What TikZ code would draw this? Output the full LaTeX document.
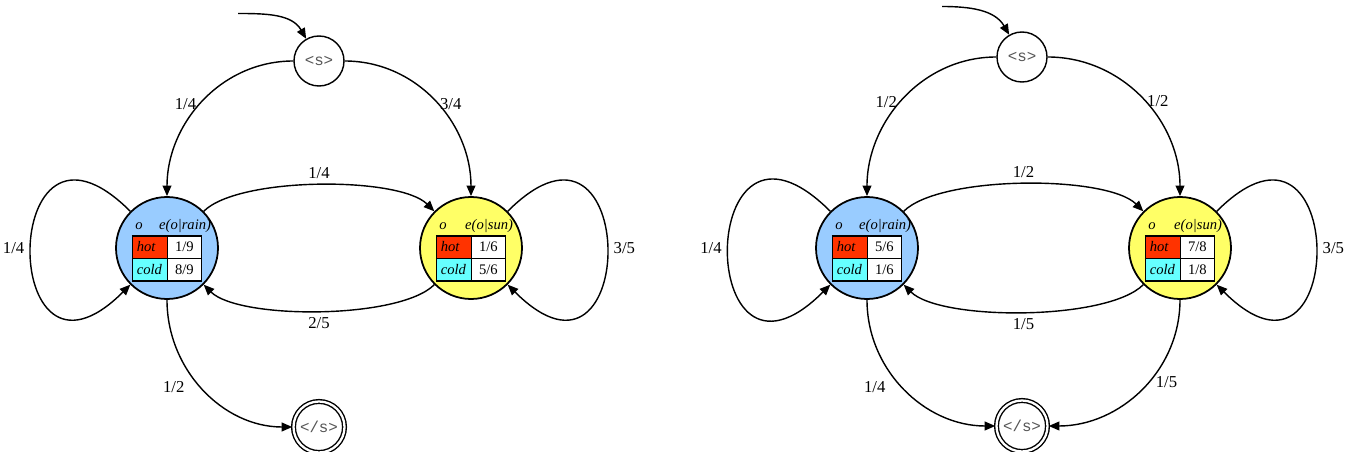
\documentclass[tikz,border=0pt]{standalone}
\usepackage{fontspec}
\setmainfont{Liberation Serif}
\setmonofont{Liberation Mono}
\usepackage{array}
\usepackage{colortbl}
\usetikzlibrary{arrows.meta,automata,positioning}

\definecolor{rainblue}{HTML}{99CCFF}
\definecolor{sunyellow}{HTML}{FFFF66}
\definecolor{hotred}{HTML}{FF3300}
\definecolor{coldcyan}{HTML}{66FFFF}
\definecolor{tokgray}{HTML}{555555}

% emission table of a state: #1 weather, #2 e(hot), #3 e(cold)
\newcommand{\emtab}[3]{%
  {\fontsize{8.3}{10}\selectfont
   \setlength{\tabcolsep}{2pt}\setlength{\arrayrulewidth}{0.8pt}%
   \renewcommand{\arraystretch}{1.2}%
   \begin{tabular}{|p{15pt}|>{\centering\arraybackslash}p{14.5pt}|}
     \multicolumn{1}{l}{\textit{o}} & \multicolumn{1}{c}{\makebox[0pt]{\textit{e(o|#1)}}}\\
     \hline
     \cellcolor{hotred}\textit{hot} & \cellcolor{white}#2\\ \hline
     \cellcolor{coldcyan}\textit{cold} & \cellcolor{white}#3\\ \hline
   \end{tabular}}}

\begin{document}
\begin{tikzpicture}[->,>={Triangle[length=6pt,width=5pt]},auto,
                line width=0.8pt,font=\fontsize{9.5}{11}\selectfont,
                weather/.style={state,line width=1pt,inner sep=0pt,minimum size=2.04cm},
                tok/.style={state,line width=0.8pt,inner sep=0pt,minimum size=1cm,
                            font=\ttfamily\fontsize{9}{10}\selectfont,text=tokgray},
                endtok/.style={tok,accepting,double distance=1.3pt,minimum size=1.02cm}]
  \useasboundingbox (0,0) rectangle (26.98,-9.04);

  % first model
  \coordinate (init1) at (4.76,-0.27);
  \node [tok]                      (bos1) at (6.38,-1.22)      {<s>};
  \node [weather,fill=rainblue]    (rain1) at (3.34,-4.96)     {\emtab{rain}{1/9}{8/9}};
  \node [weather,fill=sunyellow,node distance=6.08cm,right of=rain1] (sun1) {\emtab{sun}{1/6}{5/6}};
  \node [endtok,node distance=7.32cm,below of=bos1] (eos1)     {</s>};
  \path (init1) edge [out=0,in=120]                      (bos1)
        (bos1)  edge [out=180,in=90]    node [left,pos=0.52,inner sep=2pt] {1/4} (rain1)
                edge [out=0,in=90]      node [right,pos=0.52,inner sep=1pt] {3/4} (sun1)
        (rain1) edge [out=45,in=135,looseness=0.55] node {1/4} (sun1)
                edge [loop left,out=135,in=-135,distance=3.75cm] node [swap] {1/4} (rain1)
                edge [out=-90,in=180]   node [swap,pos=0.4] {1/2} (eos1)
        (sun1)  edge [out=-135,in=-45,looseness=0.55] node {2/5} (rain1)
                edge [loop right,out=45,in=-45,distance=3.75cm] node {3/5} (sun1);

  % second model
  \coordinate (init2) at (18.84,-0.13);
  \node [tok]                      (bos2) at (20.44,-1.14)     {<s>};
  \node [weather,fill=rainblue]    (rain2) at (17.34,-4.96)    {\emtab{rain}{5/6}{1/6}};
  \node [weather,fill=sunyellow,node distance=6.26cm,right of=rain2] (sun2) {\emtab{sun}{7/8}{1/8}};
  \node [endtok,node distance=7.38cm,below of=bos2] (eos2)     {</s>};
  \path (init2) edge [out=0,in=120]                      (bos2)
        (bos2)  edge [out=180,in=90]    node [left,pos=0.52,inner sep=2pt] {1/2} (rain2)
                edge [out=0,in=90]      node [right,pos=0.52,inner sep=1pt] {1/2} (sun2)
        (rain2) edge [out=45,in=135,looseness=0.55] node {1/2} (sun2)
                edge [loop left,out=135,in=-135,distance=3.85cm] node [swap] {1/4} (rain2)
                edge [out=-90,in=180]   node [swap,pos=0.4] {1/4} (eos2)
        (sun2)  edge [out=-135,in=-45,looseness=0.55] node {1/5} (rain2)
                edge [loop right,out=45,in=-45,distance=3.75cm] node {3/5} (sun2)
                edge [out=-90,in=0]     node [pos=0.4,inner sep=0.5pt] {1/5} (eos2);
\end{tikzpicture}
\end{document}
